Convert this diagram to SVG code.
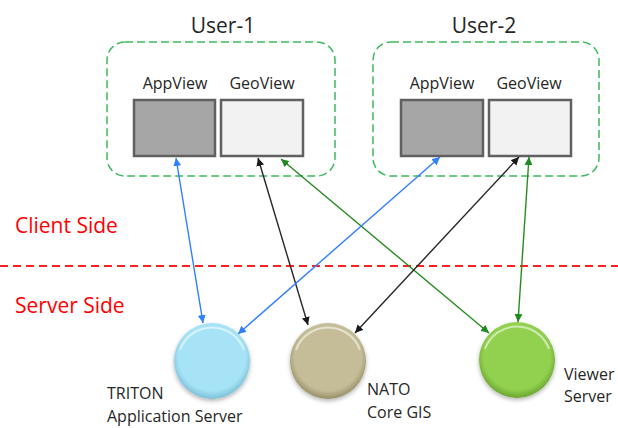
<svg xmlns="http://www.w3.org/2000/svg" width="618" height="428" viewBox="0 0 618 428">
  <style>
    text { font-family: "Open Sans", "Liberation Sans", sans-serif; fill: #262626; }
    .user { font-size: 21px; text-anchor: middle; }
    .view { font-size: 16px; text-anchor: middle; }
    .side { font-size: 21px; fill: #ff0000; }
    .srv { font-size: 16px; }
    .group { fill: none; stroke: #3cb95c; stroke-width: 1.5; stroke-dasharray: 8 4; }
    .app { fill: #a6a6a6; stroke: #606060; stroke-width: 2.5; }
    .geo { fill: #f2f2f2; stroke: #606060; stroke-width: 2.5; }
    .divider { stroke: #ff2020; stroke-width: 2; stroke-dasharray: 8 5; }
    .link { fill: none; stroke-width: 1.4; }
    .blue { stroke: #2f7fff; marker-start: url(#hb); marker-end: url(#hb); }
    .black { stroke: #262626; marker-start: url(#hk); marker-end: url(#hk); }
    .green { stroke: #2a8a22; marker-start: url(#hg); marker-end: url(#hg); }
    .rim { fill: none; stroke: #ffffff; stroke-opacity: 0.55; stroke-width: 2; }
  </style>
  <defs>
    <marker id="hb" viewBox="0 0 10 10" refX="10" refY="5" markerWidth="8" markerHeight="8" markerUnits="userSpaceOnUse" orient="auto-start-reverse">
      <path d="M0,0 L10,5 L0,10 z" fill="#2f7fff"/>
    </marker>
    <marker id="hk" viewBox="0 0 10 10" refX="10" refY="5" markerWidth="8" markerHeight="8" markerUnits="userSpaceOnUse" orient="auto-start-reverse">
      <path d="M0,0 L10,5 L0,10 z" fill="#1a1a1a"/>
    </marker>
    <marker id="hg" viewBox="0 0 10 10" refX="10" refY="5" markerWidth="8" markerHeight="8" markerUnits="userSpaceOnUse" orient="auto-start-reverse">
      <path d="M0,0 L10,5 L0,10 z" fill="#1f8a1f"/>
    </marker>
    <radialGradient id="gBlue" cx="0.5" cy="0.45" r="0.55">
      <stop offset="0.8" stop-color="#a6e3f6"/>
      <stop offset="1" stop-color="#7cbfd6"/>
    </radialGradient>
    <radialGradient id="gTan" cx="0.5" cy="0.45" r="0.55">
      <stop offset="0.8" stop-color="#c4bd97"/>
      <stop offset="1" stop-color="#958e68"/>
    </radialGradient>
    <radialGradient id="gGreen" cx="0.5" cy="0.45" r="0.55">
      <stop offset="0.8" stop-color="#92d050"/>
      <stop offset="1" stop-color="#6aa52e"/>
    </radialGradient>
    <filter id="shadow" x="-30%" y="-30%" width="160%" height="160%">
      <feDropShadow dx="0" dy="2" stdDeviation="2" flood-color="#000000" flood-opacity="0.3"/>
    </filter>
  </defs>

  <!-- client / server boundary -->
  <g id="boundary">
    <line class="divider" x1="0" y1="266" x2="618" y2="266"/>
    <text class="side" x="15" y="233">Client Side</text>
    <text class="side" x="15" y="313">Server Side</text>
  </g>

  <!-- user 1 -->
  <g id="user1">
    <text class="user" x="223" y="33">User-1</text>
    <rect class="group" x="107" y="42" width="228" height="134" rx="18"/>
  </g>
  <g id="user1-appview">
    <text class="view" x="175" y="89">AppView</text>
    <rect class="app" x="134" y="100" width="81" height="56"/>
  </g>
  <g id="user1-geoview">
    <text class="view" x="262" y="89">GeoView</text>
    <rect class="geo" x="221" y="100" width="82" height="56"/>
  </g>

  <!-- user 2 -->
  <g id="user2">
    <text class="user" x="484" y="33">User-2</text>
    <rect class="group" x="373" y="42" width="226" height="134" rx="18"/>
  </g>
  <g id="user2-appview">
    <text class="view" x="442" y="89">AppView</text>
    <rect class="app" x="401" y="100" width="82" height="56"/>
  </g>
  <g id="user2-geoview">
    <text class="view" x="529" y="89">GeoView</text>
    <rect class="geo" x="489" y="100" width="82" height="56"/>
  </g>

  <!-- connectors -->
  <g id="connectors">
    <line class="link blue" x1="176" y1="158" x2="203" y2="323"/>
    <line class="link black" x1="258" y1="158" x2="308" y2="325"/>
    <line class="link green" x1="281" y1="159" x2="489" y2="333"/>
    <line class="link blue" x1="440" y1="157" x2="238" y2="334"/>
    <line class="link black" x1="519" y1="157" x2="355" y2="333"/>
    <line class="link green" x1="529" y1="157" x2="518" y2="322"/>
  </g>

  <!-- servers -->
  <g id="triton">
    <circle cx="212" cy="361" r="38" fill="url(#gBlue)" filter="url(#shadow)"/>
    <path class="rim" d="M180,350 A34,34 0 0 1 244,350"/>
    <text class="srv" x="107" y="399">TRITON</text>
    <text class="srv" x="107" y="422">Application Server</text>
  </g>
  <g id="nato">
    <circle cx="328" cy="361" r="38" fill="url(#gTan)" filter="url(#shadow)"/>
    <path class="rim" d="M296,350 A34,34 0 0 1 360,350"/>
    <text class="srv" x="367" y="395">NATO</text>
    <text class="srv" x="367" y="418">Core GIS</text>
  </g>
  <g id="viewer">
    <circle cx="517" cy="360" r="38" fill="url(#gGreen)" filter="url(#shadow)"/>
    <path class="rim" d="M485,349 A34,34 0 0 1 549,349"/>
    <text class="srv" x="564" y="380">Viewer</text>
    <text class="srv" x="564" y="402">Server</text>
  </g>
</svg>
